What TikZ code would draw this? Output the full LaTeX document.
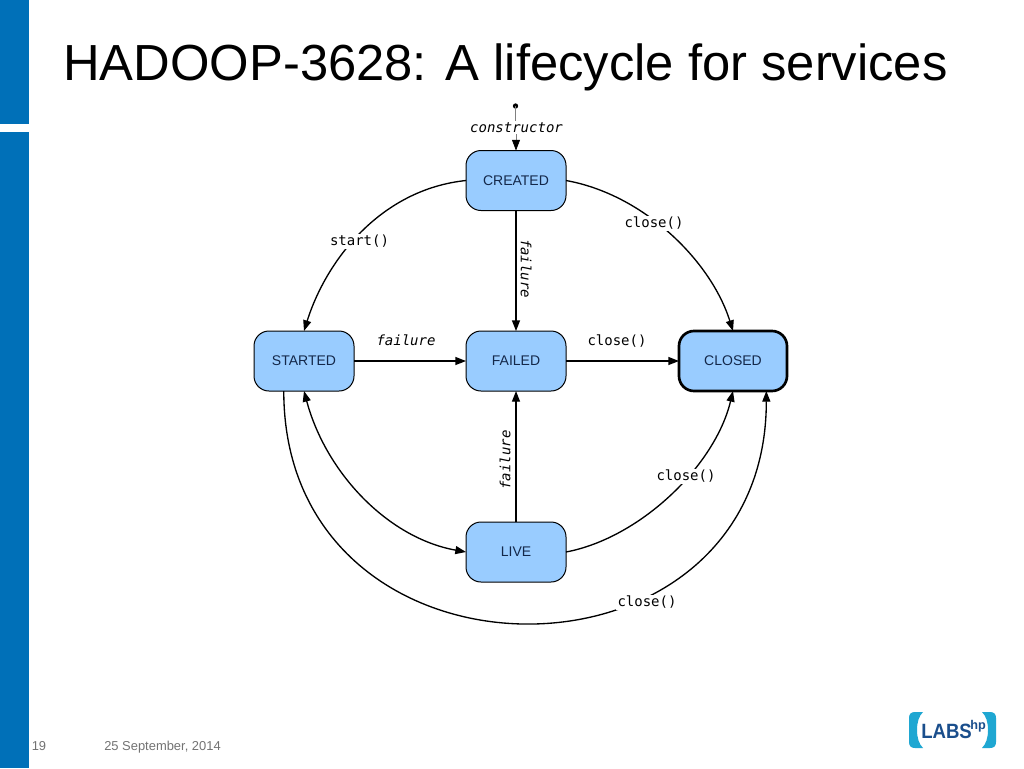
\documentclass[tikz,border=0pt]{standalone}
\usepackage{fontspec}
\setmainfont{Liberation Sans}
\newfontfamily\labelmono{DejaVu Sans Mono}
\usetikzlibrary{arrows.meta,calc}
\definecolor{hpblue}{HTML}{0070B8}
\definecolor{boxfill}{HTML}{99CCFF}
\definecolor{boxtext}{HTML}{14284A}
\definecolor{logocyan}{HTML}{1FA7D2}
\definecolor{logonavy}{HTML}{1A4E8C}
\tikzset{
  x=0.75pt,y=-0.75pt,
  head/.tip={Triangle[length=8pt,width=6pt]},
  state/.style={draw=black,fill=boxfill,rounded corners=11.25pt,line width=0.75pt,minimum width=75pt,minimum height=45pt,inner sep=0pt,outer sep=0pt,font=\fontsize{10.5pt}{12pt}\selectfont,text=boxtext},
  finalstate/.style={state,line width=2pt,minimum width=81pt},
  conn/.style={line width=1pt,-head},
  bothconn/.style={line width=1pt,head-head},
  lab/.style={font=\labelmono\fontsize{10.5pt}{12pt}\selectfont,inner sep=1pt},
  itlab/.style={font=\labelmono\itshape\fontsize{10.5pt}{12pt}\selectfont,inner sep=1pt},
  foot/.style={font=\fontsize{9.7pt}{11pt}\selectfont,text=black!55,inner sep=0pt},
}
\begin{document}
\begin{tikzpicture}
\useasboundingbox (0,0) rectangle (1024,768);
\fill[white] (0,0) rectangle (1024,768);
\fill[hpblue] (0,0) rectangle (28.5,124);
\fill[hpblue] (0,131.5) rectangle (28.5,768);
\node[anchor=base west,inner sep=0pt,font=\fontsize{38.05pt}{44pt}\selectfont] (title) at (63,80) {HADOOP-3628: A lifecycle for services};

\node[state] (created) at (516,180.5) {CREATED};
\node[state] (started) at (304,361) {STARTED};
\node[state] (failed) at (516,361) {FAILED};
\node[finalstate] (closed) at (733,361) {CLOSED};
\node[state] (live) at (516,552) {LIVE};

\fill (515.5,106) circle (2pt);
\coordinate (init) at (515.5,106);
\node[itlab] (ctor) at (516.5,127.5) {constructor};
\draw[black!50,line width=0.5pt] (init) -- (init|-ctor.north);
\draw[line width=0.5pt,black!50,-{Triangle[length=8pt,width=6pt,black]}] (ctor.south-|created.north) -- (created.north);

\draw[conn] (created.west) .. controls +(-86,9) and +(22,-70) .. (started.north);
\draw[conn] (created.east) .. controls +(78,14) and +(-22,-70) .. (closed.north);
\draw[conn] (created) -- (failed);
\draw[conn] (started) -- (failed);
\draw[conn] (failed) -- (closed);
\draw[conn] (live) -- (failed);
\draw[conn] (live.east) .. controls +(74,-14) and +(-18,75) .. (closed.south);
\draw[bothconn] (live.west) .. controls +(-78,-14) and +(22,82) .. (started.south);
\draw[conn] (started.236) .. controls +(0,309) and +(0,309) .. (closed.318);

\node[lab,fill=white] (l1) at (359.5,241.5) {start()};
\node[lab,fill=white] (l2) at (654,223.5) {close()};
\node[itlab,rotate=-90] (l3) at (526,268.5) {failure};
\node[itlab,fill=white] (l4) at (406,340.5) {failure};
\node[lab] (l5) at (617,341) {close()};
\node[itlab,rotate=90] (l6) at (505,460) {failure};
\node[lab,fill=white] (l7) at (686,476.5) {close()};
\node[lab,fill=white] (l8) at (647,602.5) {close()};

\node[foot,anchor=base] (page) at (39,750) {19};
\node[foot,anchor=base west] (date) at (104,750) {25 September, 2014};

% logo
\fill[logocyan] (923,712) -- (915,712) .. controls (911,712) and (909,714) .. (909,718) -- (909,742) .. controls (909,746) and (911,748) .. (915,748) -- (923,748) .. controls (919,744) and (917,738) .. (917,730) .. controls (917,722) and (919,716) .. (923,712) -- cycle;
\fill[logocyan] (982,712) -- (990,712) .. controls (994,712) and (996,714) .. (996,718) -- (996,742) .. controls (996,746) and (994,748) .. (990,748) -- (982,748) .. controls (986,744) and (988,738) .. (988,730) .. controls (988,722) and (986,716) .. (982,712) -- cycle;
\node[anchor=base west,inner sep=0pt,text=logonavy,font=\bfseries\fontsize{15.5pt}{16pt}\selectfont,xscale=0.9] (labs) at (921,738.5) {LABS};
\node[anchor=base west,inner sep=0pt,text=logonavy,font=\bfseries\fontsize{9.5pt}{10pt}\selectfont] (hp) at (970,729.5) {hp};
\end{tikzpicture}
\end{document}
